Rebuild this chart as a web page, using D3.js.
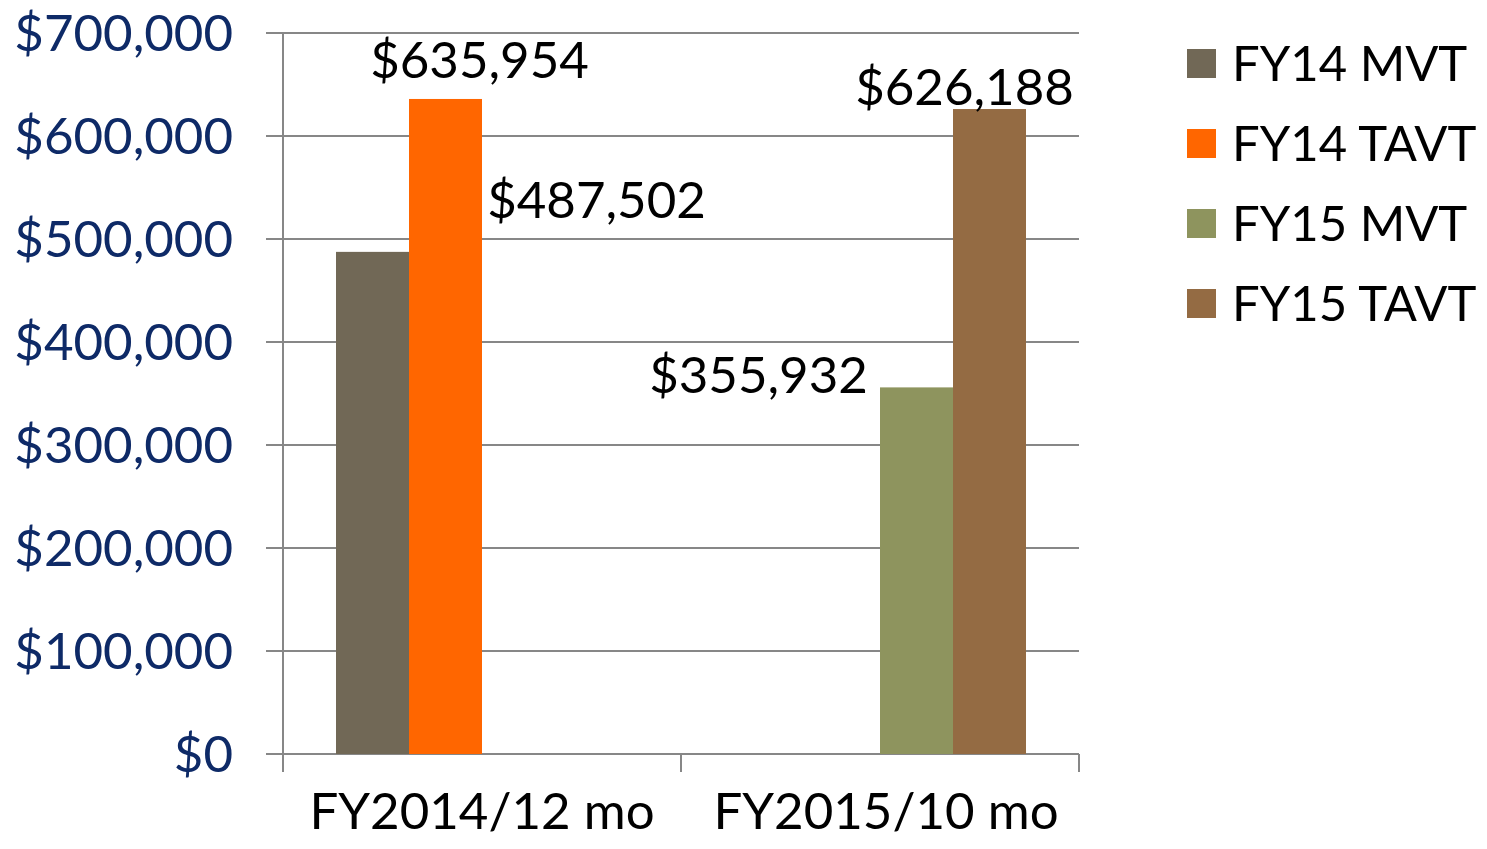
<!DOCTYPE html>
<html>
<head>
<meta charset="utf-8">
<script src="https://cdn.jsdelivr.net/npm/d3@7"></script>
<style>
  body { margin: 0; background: #fff; }
  text { font-family: Lato, "Liberation Sans", sans-serif; }
</style>
</head>
<body>
<div id="container"></div>
<script>
/* DATA */
const categories = ["FY2014/12 mo", "FY2015/10 mo"];
const seriesNames = ["FY14 MVT", "FY14 TAVT", "FY15 MVT", "FY15 TAVT"];
// one value per category, null where the series has no bar
const fy14Mvt  = [487502, null];
const fy14Tavt = [635954, null];
const fy15Mvt  = [null, 355932];
const fy15Tavt = [null, 626188];
const yTicks = [0, 100000, 200000, 300000, 400000, 500000, 600000, 700000];

/* STYLE */
const colors = ["#716856", "#FF6600", "#8E945E", "#946B43"];
// hand-placed data label nudges (dx from bar centre, dy from bar top)
const labelNudge = [[224, -34], [34, -21], [-158, 6], [-25, -4]];

const width = 1487, height = 849;
const plotLeft = 283, plotRight = 1079, plotTop = 33, plotBottom = 754;

const svg = d3.select("#container").append("svg")
  .attr("width", width)
  .attr("height", height);

const values = [fy14Mvt, fy14Tavt, fy15Mvt, fy15Tavt];

/* SCALES */
const x0 = d3.scaleBand().domain(categories).range([plotLeft, plotRight]);
const x1 = d3.scaleBand().domain(seriesNames).range([0, x0.bandwidth()])
  .paddingInner(0).paddingOuter(0.726);
const y = d3.scaleLinear().domain([0, 700000]).range([plotBottom, plotTop]);

// gridlines + y tick marks
svg.append("g")
  .selectAll("line")
  .data(yTicks)
  .join("line")
  .attr("x1", plotLeft - 17)
  .attr("x2", plotRight)
  .attr("y1", d => y(d))
  .attr("y2", d => y(d))
  .attr("stroke", "#878787")
  .attr("stroke-width", 2);

// y axis line
svg.append("line")
  .attr("x1", plotLeft).attr("x2", plotLeft)
  .attr("y1", plotTop).attr("y2", plotBottom)
  .attr("stroke", "#878787").attr("stroke-width", 2);

// x tick marks
const xTickPos = [plotLeft].concat(categories.map(c => x0(c) + x0.bandwidth()));
svg.append("g")
  .selectAll("line")
  .data(xTickPos)
  .join("line")
  .attr("x1", d => d).attr("x2", d => d)
  .attr("y1", plotBottom).attr("y2", plotBottom + 18)
  .attr("stroke", "#878787").attr("stroke-width", 2);

// y labels
const fmt = d3.format("$,");
svg.append("g")
  .selectAll("text")
  .data(yTicks)
  .join("text")
  .attr("x", 233)
  .attr("y", d => y(d))
  .attr("dy", "0.36em")
  .attr("text-anchor", "end")
  .attr("font-size", 51)
  .attr("fill", "#0E2A67")
  .text(d => fmt(d));

// x labels
svg.append("g")
  .selectAll("text")
  .data(categories)
  .join("text")
  .attr("x", (d, i) => x0(d) + x0.bandwidth() / 2 + (i ? 6 : 0))
  .attr("y", 829)
  .attr("text-anchor", "middle")
  .attr("font-size", 51)
  .attr("fill", "#000")
  .text(d => d);

// bars
const bars = [];
values.forEach((arr, si) => {
  arr.forEach((v, ci) => {
    if (v != null) bars.push({ s: seriesNames[si], si, c: categories[ci], v });
  });
});

svg.append("g")
  .selectAll("rect")
  .data(bars)
  .join("rect")
  .attr("x", d => x0(d.c) + x1(d.s))
  .attr("y", d => y(d.v))
  .attr("width", x1.bandwidth())
  .attr("height", d => y(0) - y(d.v))
  .attr("fill", d => colors[d.si]);

// data labels
svg.append("g")
  .selectAll("text")
  .data(bars)
  .join("text")
  .attr("x", d => x0(d.c) + x1(d.s) + x1.bandwidth() / 2 + labelNudge[d.si][0])
  .attr("y", d => y(d.v) + labelNudge[d.si][1])
  .attr("text-anchor", "middle")
  .attr("font-size", 51)
  .attr("fill", "#000")
  .text(d => fmt(d.v));

// legend
const legend = svg.append("g")
  .selectAll("g")
  .data(seriesNames)
  .join("g")
  .attr("transform", (d, i) => `translate(1187, ${49 + i * 80})`);

legend.append("rect")
  .attr("width", 29).attr("height", 29)
  .attr("fill", (d, i) => colors[i]);

legend.append("text")
  .attr("x", 45)
  .attr("y", 14.5)
  .attr("dy", "0.36em")
  .attr("font-size", 49)
  .attr("fill", "#000")
  .text(d => d);
</script>
</body>
</html>
